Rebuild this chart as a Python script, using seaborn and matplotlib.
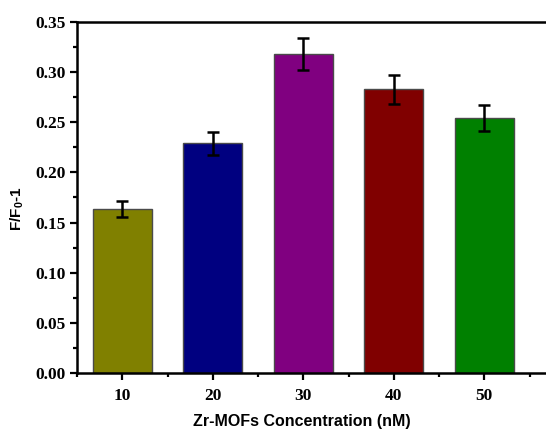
import matplotlib
matplotlib.use("Agg")
import matplotlib.pyplot as plt
import seaborn as sns
import pandas as pd
from matplotlib.ticker import MultipleLocator

concentrations = [10, 20, 30, 40, 50]
values = [0.164, 0.229, 0.318, 0.283, 0.254]
errors = [0.008, 0.0115, 0.016, 0.0145, 0.013]
colors = ["#808000", "#000080", "#800080", "#800000", "#008000"]
y_ticks = [0.00, 0.05, 0.10, 0.15, 0.20, 0.25, 0.30, 0.35]

sns.set_theme(style="ticks")
plt.rcParams["mathtext.default"] = "regular"

df = pd.DataFrame({"conc": concentrations, "val": values})

W, H = 546, 430
left_px, right_px, top_px, bottom_px = 77, 575, 22, 373
fig = plt.figure(figsize=(W / 100, H / 100), dpi=100)
ax = fig.add_axes([left_px / W, (H - bottom_px) / H,
                   (right_px - left_px) / W, (bottom_px - top_px) / H])
aw = right_px - left_px
ah = bottom_px - top_px

sns.barplot(data=df, x="conc", y="val", hue="conc", palette=colors,
            native_scale=True, width=0.65, legend=False, errorbar=None,
            edgecolor="#4a4a4a", linewidth=1.0, saturation=1, ax=ax)
ax.errorbar(concentrations, values, yerr=errors, fmt="none", ecolor="black",
            elinewidth=1.8, capsize=4.5, capthick=1.8, zorder=5)

ax.set_xlim(5, 5 + aw / 9.05)
ax.set_ylim(0, 0.35)
ax.set_yticks(y_ticks)
ax.set_yticklabels([f"{t:.2f}" for t in y_ticks])
ax.set_xticks(concentrations)
ax.set_xticklabels([str(c) for c in concentrations])
ax.xaxis.set_minor_locator(MultipleLocator(5))
ax.yaxis.set_minor_locator(MultipleLocator(0.025))

for s in ["left", "bottom", "top"]:
    ax.spines[s].set_linewidth(1.8)
    ax.spines[s].set_color("black")
    ax.spines[s].set_visible(True)
ax.spines["right"].set_visible(False)

ax.tick_params(which="major", direction="out", length=5, width=1.6, color="black")
ax.tick_params(which="minor", direction="out", length=3, width=1.6, color="black")
ax.tick_params(axis="x", which="major", pad=6)
ax.tick_params(axis="y", which="major", pad=3)
ax.tick_params(top=False, right=False, which="both")

for lab in ax.get_xticklabels() + ax.get_yticklabels():
    lab.set_fontfamily("Liberation Serif")
    lab.set_fontweight("bold")
    lab.set_fontsize(12.5)
    lab.set_color("black")

ax.set_xlabel("Zr-MOFs Concentration (nM)", family="Liberation Sans",
              fontweight="bold", fontsize=11.5, color="black")
ax.set_ylabel("F/F$_0$-1", family="Liberation Sans", fontweight="bold",
              fontsize=11, color="black")
ax.xaxis.set_label_coords((302 - left_px) / aw, (bottom_px - 414) / ah)
ax.yaxis.set_label_coords((26 - left_px) / aw, (bottom_px - 209) / ah)

fig.savefig("out.png", dpi=100, facecolor="white")
